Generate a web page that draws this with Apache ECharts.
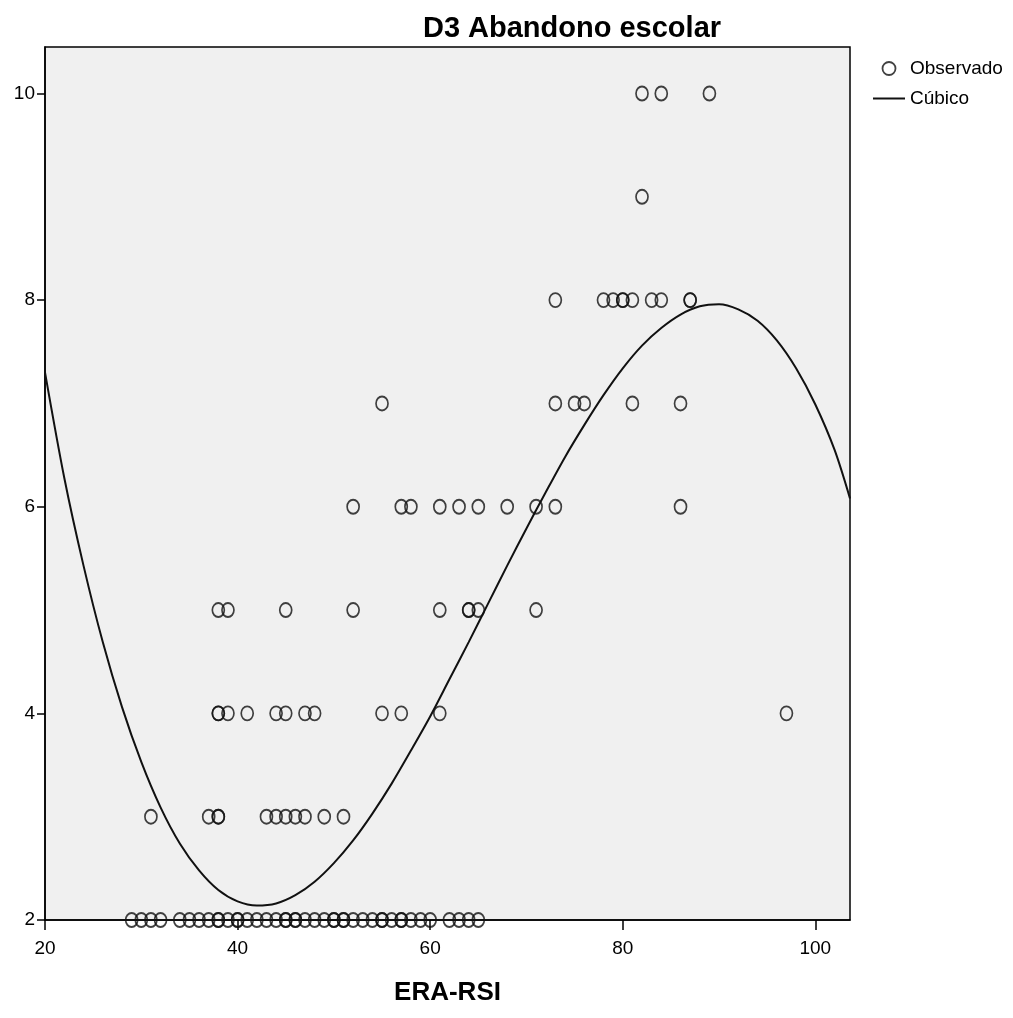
<!DOCTYPE html>
<html>
<head>
<meta charset="utf-8">
<script src="https://cdn.jsdelivr.net/npm/echarts@6/dist/echarts.min.js"></script>
<style>
    html, body { margin: 0; padding: 0; background: #fff; }
    #main { width: 1013px; height: 1018px; }
</style>
</head>
<body>
<div id="main"></div>
<script>
    // ERA-RSI values of the observed cases, one list per D3 score
    var d3Levels = [2, 3, 4, 5, 6, 7, 8, 9, 10];
    var eraRsiAt2 = [29, 30, 31, 32, 34, 35, 36, 37, 38, 38, 39, 40, 40, 41, 42, 43, 44, 45, 45, 46, 46, 47, 48, 49, 50, 50, 51, 51, 52, 53, 54, 55, 55, 56, 57, 57, 58, 59, 60, 62, 63, 64, 65];
    var eraRsiAt3 = [31, 37, 38, 38, 43, 44, 45, 46, 47, 49, 51];
    var eraRsiAt4 = [38, 38, 39, 41, 44, 45, 47, 48, 55, 57, 61, 97];
    var eraRsiAt5 = [38, 39, 45, 52, 61, 64, 64, 65, 71];
    var eraRsiAt6 = [52, 57, 58, 61, 63, 65, 68, 71, 73, 86];
    var eraRsiAt7 = [55, 73, 75, 76, 81, 86];
    var eraRsiAt8 = [73, 78, 79, 80, 80, 81, 83, 84, 87, 87];
    var eraRsiAt9 = [82];
    var eraRsiAt10 = [82, 84, 89];

    // cubic fit line, every 2 units
    var fitX = [20, 22, 24, 26, 28, 30, 32, 34, 36, 38, 40, 42, 44, 46, 48, 50, 52, 54, 56, 58, 60,
                62, 64, 66, 68, 70, 72, 74, 76, 78, 80, 82, 84, 86, 88, 90, 92, 94, 96, 98, 100, 102, 103.6];
    var fitY = [7.30, 6.28, 5.43, 4.69, 4.06, 3.53, 3.09, 2.74, 2.48, 2.29, 2.18, 2.14, 2.16, 2.24, 2.37, 2.55, 2.77, 3.03, 3.32, 3.64, 3.97,
                4.33, 4.69, 5.06, 5.43, 5.79, 6.14, 6.48, 6.79, 7.08, 7.34, 7.56, 7.73, 7.86, 7.94, 7.96, 7.91, 7.80, 7.61, 7.34, 6.99, 6.55, 6.08];

    var xTicks = [20, 40, 60, 80, 100];
    var yTicks = [2, 4, 6, 8, 10];

    var groups = [eraRsiAt2, eraRsiAt3, eraRsiAt4, eraRsiAt5, eraRsiAt6, eraRsiAt7, eraRsiAt8, eraRsiAt9, eraRsiAt10];
    var observed = [];
    groups.forEach(function (xs, i) {
        xs.forEach(function (x) {
            observed.push([x, d3Levels[i]]);
        });
    });
    var fitLine = fitX.map(function (x, i) {
        return [x, fitY[i]];
    });

    var font = "'Liberation Sans', Arial, sans-serif";

    var chart = echarts.init(document.getElementById("main"));

    var option = {
        backgroundColor: "#fff",
        animation: false,
        title: {
            text: "D3 Abandono escolar",
            left: 567,
            top: 9,
            textAlign: "center",
            textStyle: {
                fontFamily: font,
                fontWeight: "bold",
                fontSize: 29,
                color: "#000"
            }
        },
        legend: {
            orient: "vertical",
            left: 868,
            top: 54,
            itemGap: 11,
            itemWidth: 32,
            itemHeight: 13,
            textStyle: {
                fontFamily: font,
                fontSize: 19,
                color: "#000",
                padding: [0, 0, 0, 0]
            },
            data: [
                {
                    name: "Observado",
                    icon: "circle",
                    itemStyle: { color: "transparent", borderColor: "#111", borderWidth: 1.8 }
                },
                {
                    name: "Cúbico",
                    icon: "path://M0,0L32,0L32,2L0,2Z",
                    itemStyle: { color: "#111", borderWidth: 0 }
                }
            ]
        },
        grid: {
            left: 45,
            top: 47,
            right: 163,
            bottom: 98,
            show: true,
            backgroundColor: "#f0f0f0",
            borderColor: "#000",
            borderWidth: 1.5
        },
        xAxis: {
            type: "value",
            min: 20,
            max: 103.6,
            interval: 20,
            name: "ERA-RSI",
            nameLocation: "middle",
            nameGap: 60,
            nameTextStyle: {
                fontFamily: font,
                fontWeight: "bold",
                fontSize: 26,
                color: "#000"
            },
            axisLine: { lineStyle: { color: "#000", width: 1.5 } },
            axisTick: { inside: false, length: 10, lineStyle: { color: "#000", width: 1.5 } },
            axisLabel: {
                margin: 19,
                fontFamily: font,
                fontSize: 19,
                color: "#000",
                showMaxLabel: false,
                formatter: function (v) {
                    return xTicks.indexOf(v) >= 0 ? String(v) : "";
                }
            },
            splitLine: { show: false }
        },
        yAxis: {
            type: "value",
            min: 2,
            max: 10.45,
            interval: 2,
            axisLine: { lineStyle: { color: "#000", width: 1.5 } },
            axisTick: { inside: false, length: 8, lineStyle: { color: "#000", width: 1.5 } },
            axisLabel: {
                margin: 10,
                fontFamily: font,
                fontSize: 19,
                color: "#000",
                showMaxLabel: false,
                formatter: function (v) {
                    return yTicks.indexOf(v) >= 0 ? String(v) : "";
                }
            },
            splitLine: { show: false }
        },
        series: [
            {
                name: "Observado",
                type: "scatter",
                data: observed,
                clip: false,
                symbol: "circle",
                symbolSize: [12, 14],
                itemStyle: {
                    color: "transparent",
                    borderColor: "#111",
                    borderWidth: 1.8
                },
                z: 3
            },
            {
                name: "Cúbico",
                type: "line",
                data: fitLine,
                smooth: 0.3,
                showSymbol: false,
                symbol: "none",
                itemStyle: { color: "#111" },
                lineStyle: { color: "#111", width: 2 },
                z: 2
            }
        ]
    };

    chart.setOption(option);
</script>
</body>
</html>
